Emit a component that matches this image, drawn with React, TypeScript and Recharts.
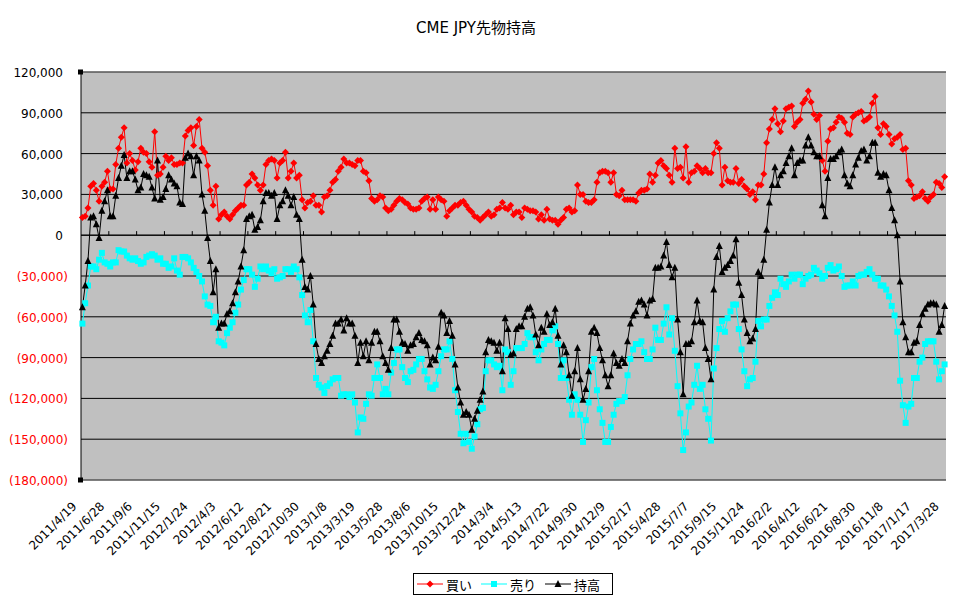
import {
    LineChart,
    Line,
    XAxis,
    YAxis,
    CartesianGrid,
    ReferenceLine,
    Legend,
} from 'recharts';

const FONT = "'Noto Sans CJK JP', 'Noto Sans', sans-serif";
const AXIS_FONT = "'DejaVu Sans', 'Noto Sans CJK JP', sans-serif";

// weekly report dates, 2011/4/19 .. 2017/3/28
const START = Date.UTC(2011, 3, 19);
const WEEKS = 311;
const DATES: string[] = Array.from({ length: WEEKS }, (_, i) => {
    const d = new Date(START + i * 7 * 86400000);
    return `${d.getUTCFullYear()}/${d.getUTCMonth() + 1}/${d.getUTCDate()}`;
});

const Y_TICKS = [-180000, -150000, -120000, -90000, -60000, -30000, 0, 30000, 60000, 90000, 120000];

// values in thousands of contracts, one row per 10 weeks
const BUY_K = [
    13, 14, 20, 36, 38, 33, 25, 36, 39, 47,
    34, 34, 52, 64, 72, 79, 53, 60, 55, 48,
    54, 64, 61, 60, 54, 50, 76, 44, 45, 50,
    58, 55, 57, 52, 52, 53, 53, 73, 77, 79,
    66, 80, 85, 64, 61, 51, 33, 22, 36, 12,
    15, 17, 14, 12, 15, 18, 20, 22, 22, 37,
    39, 45, 42, 37, 33, 37, 52, 55, 56, 55,
    42, 53, 55, 61, 42, 47, 53, 42, 44, 26,
    20, 24, 25, 29, 22, 22, 17, 28, 29, 33,
    39, 41, 47, 50, 56, 53, 53, 52, 51, 55,
    55, 47, 46, 40, 27, 25, 26, 29, 28, 20,
    18, 19, 22, 25, 27, 26, 24, 23, 20, 19,
    19, 20, 25, 27, 28, 19, 26, 19, 28, 26,
    25, 14, 18, 20, 22, 22, 24, 25, 22, 19,
    17, 14, 13, 11, 13, 15, 17, 14, 15, 19,
    20, 24, 20, 19, 22, 15, 17, 17, 13, 20,
    19, 18, 18, 17, 12, 15, 11, 19, 12, 11,
    11, 8, 11, 13, 19, 20, 17, 18, 37, 30,
    30, 25, 24, 24, 26, 39, 46, 47, 47, 46,
    39, 46, 30, 29, 33, 26, 26, 26, 26, 25,
    31, 33, 33, 34, 45, 39, 44, 53, 55, 51,
    49, 44, 39, 64, 49, 50, 42, 65, 39, 46,
    47, 51, 49, 46, 49, 46, 46, 60, 68, 64,
    37, 50, 40, 39, 39, 49, 38, 41, 36, 34,
    30, 32, 26, 37, 37, 45, 68, 78, 85, 93,
    82, 76, 84, 93, 94, 95, 80, 83, 85, 97,
    100, 106, 98, 89, 85, 88, 55, 47, 69, 78,
    79, 83, 87, 86, 83, 75, 74, 87, 89, 90,
    91, 84, 85, 87, 97, 102, 79, 74, 82, 80,
    74, 67, 71, 72, 74, 63, 64, 40, 37, 27,
    28, 29, 32, 27, 25, 28, 30, 39, 38, 35, 43,
];

const SELL_K = [
    -65, -50, -37, -23, -23, -25, -18, -13, -20, -21,
    -23, -20, -20, -11, -12, -12, -15, -17, -18, -17,
    -19, -21, -20, -16, -15, -14, -15, -18, -17, -21,
    -21, -24, -23, -17, -26, -29, -16, -16, -17, -20,
    -24, -27, -30, -34, -45, -51, -52, -64, -60, -78,
    -79, -81, -72, -68, -64, -57, -51, -40, -33, -25,
    -25, -29, -38, -32, -23, -25, -23, -26, -28, -25,
    -32, -31, -30, -25, -25, -27, -23, -25, -31, -44,
    -59, -64, -55, -78, -105, -110, -112, -116, -111, -109,
    -106, -105, -105, -118, -117, -117, -119, -117, -123, -145,
    -134, -135, -124, -117, -118, -105, -95, -105, -117, -113,
    -117, -101, -94, -84, -84, -97, -105, -108, -100, -99,
    -95, -91, -91, -100, -106, -112, -113, -110, -100, -89,
    -84, -84, -78, -91, -114, -130, -146, -153, -146, -152,
    -157, -148, -139, -128, -127, -100, -92, -92, -95, -97,
    -96, -114, -84, -86, -110, -100, -83, -83, -83, -80,
    -72, -75, -75, -86, -92, -84, -80, -77, -77, -70,
    -67, -80, -105, -92, -105, -121, -132, -117, -121, -132,
    -152, -136, -123, -97, -91, -114, -128, -138, -152, -152,
    -141, -132, -124, -122, -122, -119, -103, -91, -84, -80,
    -80, -78, -86, -91, -91, -84, -68, -77, -77, -65,
    -53, -73, -61, -85, -111, -131, -158, -145, -126, -123,
    -110, -96, -113, -110, -128, -135, -151, -98, -83, -69,
    -63, -71, -61, -56, -51, -51, -69, -84, -100, -111,
    -106, -105, -93, -63, -67, -62, -62, -52, -46, -42,
    -44, -32, -36, -38, -34, -29, -32, -29, -29, -36,
    -32, -30, -29, -24, -26, -28, -32, -30, -24, -22,
    -26, -25, -23, -30, -38, -37, -37, -34, -37, -30,
    -29, -29, -27, -25, -29, -32, -32, -37, -37, -40,
    -45, -52, -59, -71, -107, -125, -138, -126, -124, -105,
    -105, -93, -90, -80, -78, -78, -78, -93, -106, -100, -95,
];

const NET_K = [
    -53, -37, -19, 13, 14, 8, -2, 18, 25, 33,
    14, 14, 29, 42, 51, 59, 42, 47, 47, 41,
    33, 35, 45, 44, 43, 35, 27, 55, 26, 28,
    34, 44, 41, 38, 36, 24, 23, 57, 60, 58,
    44, 58, 55, 30, 18, -2, -19, -42, -25, -68,
    -65, -65, -58, -56, -50, -42, -34, -23, -11, 12,
    14, 15, 4, 6, 11, 25, 31, 31, 29, 31,
    12, 22, 25, 33, 29, 22, 28, 15, 12, -18,
    -38, -40, -30, -51, -80, -91, -94, -89, -85, -80,
    -74, -65, -65, -62, -70, -61, -65, -65, -74, -94,
    -79, -89, -78, -92, -79, -71, -71, -78, -89, -94,
    -99, -83, -62, -62, -71, -79, -80, -85, -81, -80,
    -75, -72, -77, -78, -81, -95, -90, -92, -82, -57,
    -59, -72, -63, -74, -95, -112, -123, -132, -130, -132,
    -143, -135, -129, -121, -115, -86, -77, -78, -79, -85,
    -79, -100, -61, -69, -88, -87, -69, -67, -67, -60,
    -54, -53, -59, -73, -81, -68, -71, -58, -66, -64,
    -54, -74, -95, -81, -86, -103, -118, -100, -83, -106,
    -121, -113, -100, -71, -68, -72, -83, -92, -103, -111,
    -103, -87, -94, -96, -91, -94, -78, -65, -59, -56,
    -49, -48, -51, -59, -48, -47, -24, -24, -23, -15,
    -5, -22, -31, -24, -62, -86, -117, -80, -80, -78,
    -64, -48, -63, -64, -83, -91, -106, -40, -16, -8,
    -27, -24, -22, -19, -15, -3, -35, -44, -62, -72,
    -78, -76, -69, -27, -30, -18, 4, 24, 37, 50,
    37, 44, 47, 53, 58, 64, 44, 53, 55, 55,
    66, 72, 66, 61, 58, 58, 22, 14, 42, 56,
    56, 58, 61, 63, 44, 38, 36, 44, 52, 57,
    62, 63, 55, 58, 68, 68, 46, 43, 45, 44,
    33, 20, 11, 0, -34, -64, -75, -86, -86, -79,
    -78, -66, -58, -54, -51, -50, -50, -51, -71, -66, -52,
];

const rows = DATES.map((date, i) => ({
    date,
    buy: BUY_K[i] * 1000,
    sell: SELL_K[i] * 1000,
    net: NET_K[i] * 1000,
}));

// small tick marks on the zero axis, every 10 weeks
const ZERO_TICKS = DATES.filter((_, i) => i > 0 && i % 10 === 0 && i < WEEKS - 1);

function fmt(v: number): string {
    return Math.abs(v).toString().replace(/\B(?=(\d{3})+(?!\d))/g, ',');
}

/* eslint-disable @typescript-eslint/no-explicit-any */
function YTick({ x, y, payload }: any) {
    const v = payload.value as number;
    const neg = v < 0;
    return (
        <g>
            <text
                x={neg ? x - 13 : x - 18}
                y={y}
                dy={5}
                textAnchor="end"
                fontSize={12}
                fontFamily={AXIS_FONT}
                fill={neg ? '#FF0000' : '#000000'}
            >
                {neg ? `(${fmt(v)})` : fmt(v)}
            </text>
            {(v === 120000 || v === -180000) && (
                <rect x={x - 3} y={y - 2.5} width={5} height={5} fill="#000000" />
            )}
        </g>
    );
}

function XTick({ x, y, payload }: any) {
    return (
        <text
            x={0}
            y={0}
            transform={`translate(${x - 5},${y + 27}) rotate(-45)`}
            textAnchor="end"
            fontSize={12}
            fontFamily={AXIS_FONT}
            fill="#000000"
        >
            {payload.value}
        </text>
    );
}

function Diamond({ cx, cy, index }: any) {
    if (cx == null || cy == null) return <g key={`d${index}`} />;
    const r = 3.5;
    return (
        <polygon
            key={`d${index}`}
            points={`${cx},${cy - r} ${cx + r},${cy} ${cx},${cy + r} ${cx - r},${cy}`}
            fill="#FF0000"
        />
    );
}

function Square({ cx, cy, index }: any) {
    if (cx == null || cy == null) return <g key={`s${index}`} />;
    return <rect key={`s${index}`} x={cx - 3} y={cy - 3} width={6} height={6} fill="#00FFFF" />;
}

function Triangle({ cx, cy, index }: any) {
    if (cx == null || cy == null) return <g key={`t${index}`} />;
    return (
        <polygon
            key={`t${index}`}
            points={`${cx},${cy - 4} ${cx + 3.5},${cy + 3} ${cx - 3.5},${cy + 3}`}
            fill="#000000"
        />
    );
}

const legendItems = [
    { name: '買い', color: '#FF0000', Mark: Diamond },
    { name: '売り', color: '#00FFFF', Mark: Square },
    { name: '持高', color: '#000000', Mark: Triangle },
];

function LegendBox() {
    return (
        <div
            style={{
                display: 'flex',
                alignItems: 'center',
                justifyContent: 'center',
                width: 200,
                height: 22,
                boxSizing: 'border-box',
                border: '1px solid #000000',
                background: '#ffffff',
                fontSize: 13,
                fontFamily: FONT,
                color: '#000000',
            }}
        >
            {legendItems.map(({ name, color, Mark }) => (
                <div key={name} style={{ display: 'flex', alignItems: 'center', marginRight: 9 }}>
                    <svg width={26} height={10}>
                        <line x1={0} y1={5} x2={26} y2={5} stroke={color} strokeWidth={1} />
                        <Mark cx={13} cy={5} index={0} />
                    </svg>
                    <span style={{ marginLeft: 3, lineHeight: '13px' }}>{name}</span>
                </div>
            ))}
        </div>
    );
}

export default function App() {
    return (
        <div
            style={{
                position: 'absolute',
                left: 0,
                top: 0,
                width: 960,
                height: 604,
                background: '#ffffff',
                fontFamily: FONT,
            }}
        >
            <div
                style={{
                    position: 'absolute',
                    top: 21,
                    left: 0,
                    width: 952,
                    textAlign: 'center',
                    fontSize: 15,
                    lineHeight: '15px',
                    fontFamily: AXIS_FONT,
                    color: '#000000',
                }}
            >
                CME JPY先物持高
            </div>
            <LineChart
                width={960}
                height={604}
                data={rows}
                margin={{ top: 72, right: 14, bottom: 84, left: 8 }}
            >
                <CartesianGrid vertical={false} stroke="#000000" fill="#C0C0C0" fillOpacity={1} />
                <XAxis
                    dataKey="date"
                    interval={9}
                    height={40}
                    tickSize={0}
                    tickMargin={0}
                    axisLine={false}
                    tickLine={false}
                    padding={{ left: 1.4, right: 1.4 }}
                    tick={<XTick />}
                />
                <YAxis
                    domain={[-180000, 120000]}
                    ticks={Y_TICKS}
                    interval={0}
                    width={73}
                    tickSize={0}
                    tickMargin={0}
                    tickLine={false}
                    axisLine={{ stroke: '#000000' }}
                    tick={<YTick />}
                />
                <YAxis
                    yAxisId="right"
                    orientation="right"
                    domain={[-180000, 120000]}
                    width={0}
                    tick={false}
                    tickLine={false}
                    axisLine={{ stroke: '#808080' }}
                />
                <ReferenceLine y={120000} stroke="#808080" />
                <ReferenceLine y={-180000} stroke="#808080" />
                <ReferenceLine y={0} stroke="#000000" />
                {ZERO_TICKS.map((d) => (
                    <ReferenceLine
                        key={d}
                        segment={[{ x: d, y: 0 }, { x: d, y: 3000 }]}
                        stroke="#000000"
                        shape={(p: any) => (
                            <line x1={p.x1 - 1.4} y1={p.y1} x2={p.x2 - 1.4} y2={p.y2} stroke="#000000" />
                        )}
                    />
                ))}
                <Legend
                    layout="horizontal"
                    verticalAlign="middle"
                    wrapperStyle={{ left: 413, top: 573, width: 200, height: 22 }}
                    content={<LegendBox />}
                />
                <Line
                    type="linear"
                    dataKey="buy"
                    name="買い"
                    stroke="#FF0000"
                    strokeWidth={1}
                    dot={Diamond}
                    activeDot={false}
                    isAnimationActive={false}
                />
                <Line
                    type="linear"
                    dataKey="sell"
                    name="売り"
                    stroke="#00FFFF"
                    strokeWidth={1}
                    dot={Square}
                    activeDot={false}
                    isAnimationActive={false}
                />
                <Line
                    type="linear"
                    dataKey="net"
                    name="持高"
                    stroke="#000000"
                    strokeWidth={1}
                    dot={Triangle}
                    activeDot={false}
                    isAnimationActive={false}
                />
            </LineChart>
        </div>
    );
}
